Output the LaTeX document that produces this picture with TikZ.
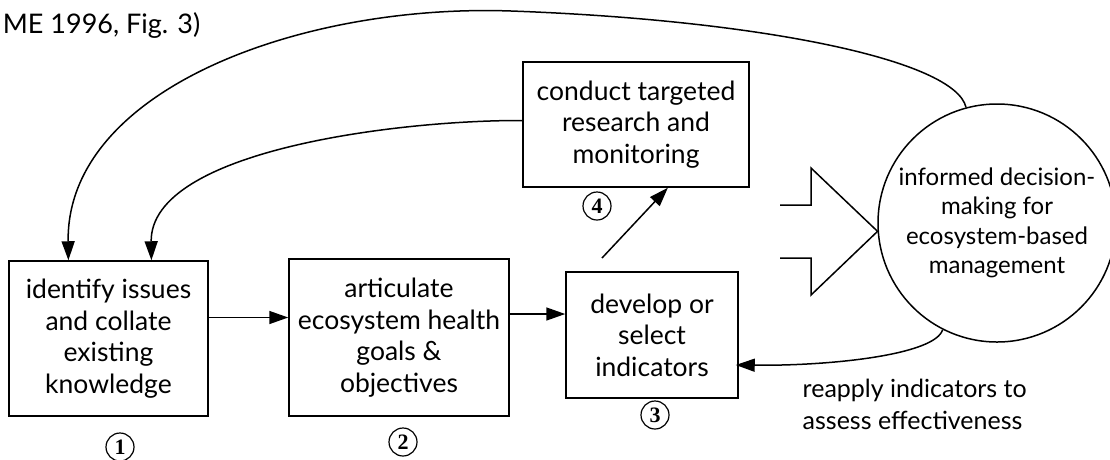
\documentclass[tikz,border=0pt]{standalone}
\usepackage{fontspec}
\setmainfont{Lato}
\newfontfamily\numfont{Liberation Serif}
\usetikzlibrary{arrows.meta,calc}

\begin{document}
\begin{tikzpicture}[x=1pt,y=-1pt,
  line width=1.4pt,
  stage/.style={draw, line width=1.5pt, inner sep=0pt, align=center,
    font=\fontsize{26.5}{31.5}\selectfont},
  goal/.style={draw, circle, line width=1.5pt, inner sep=0pt, align=center,
    minimum size=238pt, font=\fontsize{24}{29.5}\selectfont},
  num/.style={circle, draw, line width=1.2pt, minimum size=28pt, inner sep=0pt,
    font=\numfont\bfseries\fontsize{22}{22}\selectfont},
  flow/.style={-{Triangle[length=19pt,width=13pt]}, line width=1.5pt},
]
\useasboundingbox (0,0) rectangle (1110,459);

% source note
\node[anchor=east, inner sep=0pt, font=\fontsize{27}{30}\selectfont] (src) at (201,25) {ME 1996, Fig. 3)};

% process stages
\node[stage, minimum width=199pt, minimum height=155pt] (b1) at (108.5,338.5)
  {identify issues\\and collate\\existing\\knowledge};
\node[stage, minimum width=220pt, minimum height=157pt] (b2) at (399,337.5)
  {articulate\\ecosystem health\\goals \&\\objectives};
\node[stage, minimum width=172pt, minimum height=126pt] (b3) at (652,335)
  {develop or\\select\\indicators};
\node[stage, minimum width=226pt, minimum height=125pt] (b4) at (636,124.5)
  {conduct targeted\\research and\\monitoring};
\node[goal] (circ) at (997,223)
  {informed decision-\\making for\\ecosystem-based\\management};

% step numbers
\node[num] (n1) at (120,447) {1};
\node[num] (n2) at (403,442) {2};
\node[num] (n3) at (655,415) {3};
\node[num] (n4) at (597,206) {4};

% forward flow
\coordinate (a12) at ($(b1.east)+(0,-21)$);
\draw[flow] (a12) -- (a12 -| b2.west);
\coordinate (a23) at ($(b2.east)+(0,-23.5)$);
\draw[flow] (a23) -- (a23 -| b3.west);
\coordinate (a34) at (602,258);
\draw[flow] (a34) -- ($(b4.south west)!0.64!(b4.south east)$);

% block arrow into decision-making
\draw[line width=1.5pt] (780,205) -- (811,205) -- (811,168) -- (circ.184)
  -- (811,295) -- (811,258) -- (780,258);

% feedback loops
\draw[flow] (circ.105) .. controls (955,60) and (760,20) .. (511,11)
  .. controls (300,3.5) and (66,90) .. ($(b1.north west)!0.3!(b1.north east)$);
\draw[flow] ($(b4.west)+(0,-4)$) .. controls (400,120) and (150,150)
  .. ($(b1.north west)!0.714!(b1.north east)$);
\draw[flow] (circ.243) .. controls (935,355) and (830,366) .. ($(b3.east)+(-3,30)$);

\node[anchor=west, inner sep=0pt, align=left, font=\fontsize{25}{32}\selectfont] (lbl)
  at (802,404) {reapply indicators to\\assess effectiveness};
\end{tikzpicture}
\end{document}
